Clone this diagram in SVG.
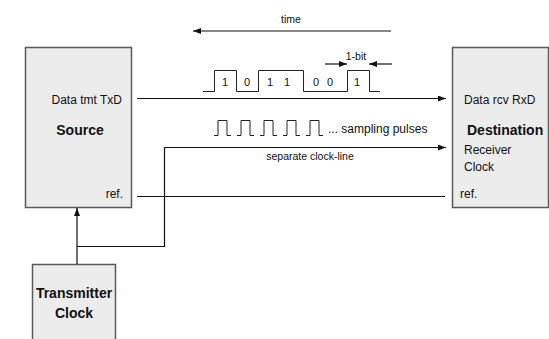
<svg xmlns="http://www.w3.org/2000/svg" width="549" height="339" viewBox="0 0 549 339">
<style>
.box{fill:#ececec;stroke:#5a5a5a;stroke-width:1.5}
.ln{fill:none;stroke:#111;stroke-width:1.2}
.wv{fill:none;stroke:#222;stroke-width:1}
text{font-family:"Liberation Sans",Arial,sans-serif;fill:#111}
.t12{font-size:12px}
.sm{font-size:10.5px}
.b{font-size:14px;font-weight:bold}
.dg{font-size:11px;text-anchor:middle}
</style>
<defs>
<marker id="ah" viewBox="0 0 8 6" refX="8" refY="3" markerWidth="8" markerHeight="6" markerUnits="userSpaceOnUse" orient="auto">
<path d="M0,0 L8,3 L0,6 z" fill="#111"/>
</marker>
</defs>
<rect width="549" height="339" fill="#fff"/>
<g id="source">
<rect class="box" x="25.5" y="47.5" width="106" height="160"/>
<text class="t12" x="122" y="104" text-anchor="end">Data tmt TxD</text>
<text class="b" x="80" y="135" text-anchor="middle">Source</text>
<text class="t12" x="123" y="198" text-anchor="end">ref.</text>
</g>
<g id="destination">
<rect class="box" x="452.5" y="47.5" width="96" height="160"/>
<text class="t12" x="464" y="104">Data rcv RxD</text>
<text class="b" x="467" y="135">Destination</text>
<text class="t12" x="464" y="154">Receiver</text>
<text class="t12" x="464" y="171">Clock</text>
<text class="t12" x="460" y="198">ref.</text>
</g>
<g id="transmitter-clock">
<rect class="box" x="32.5" y="264.5" width="83" height="80"/>
<text class="b" x="74" y="298" text-anchor="middle">Transmitter</text>
<text class="b" x="74" y="318" text-anchor="middle">Clock</text>
</g>
<g id="time">
<text class="sm" x="291" y="23" text-anchor="middle">time</text>
</g>
<g id="waveform">
<path class="wv" d="M203,91.5 H214.5 V70.5 H236.5 V91.5 H258.5 V70.5 H303.5 V91.5 H347.5 V70.5 H369.5 V91.5 H380"/>
<text class="dg" x="225" y="86">1</text>
<text class="dg" x="247" y="86">0</text>
<text class="dg" x="270" y="86">1</text>
<text class="dg" x="287" y="86">1</text>
<text class="dg" x="316" y="86">0</text>
<text class="dg" x="330" y="86">0</text>
<text class="dg" x="357" y="86">1</text>
<text class="sm" x="356" y="60" text-anchor="middle">1-bit</text>
</g>
<g id="sampling-pulses">
<path class="wv" d="M214,135.5 h4 V120.5 h9 V135.5 h4 M237,135.5 h4 V120.5 h9 V135.5 h4 M260,135.5 h4 V120.5 h9 V135.5 h4 M283,135.5 h4 V120.5 h9 V135.5 h4 M306,135.5 h4 V120.5 h9 V135.5 h4"/>
<text class="t12" x="328" y="133">... sampling pulses</text>
</g>
<g id="connectors">
<line class="ln" x1="391" y1="31" x2="193" y2="31" marker-end="url(#ah)"/>
<line class="ln" x1="325" y1="64" x2="347" y2="64" marker-end="url(#ah)"/>
<line class="ln" x1="392" y1="64" x2="369" y2="64" marker-end="url(#ah)"/>
<line class="ln" x1="137" y1="98.5" x2="446" y2="98.5" marker-end="url(#ah)"/>
<polyline class="ln" points="77,246.5 164.5,246.5 164.5,147.5 446,147.5" marker-end="url(#ah)"/>
<line class="ln" x1="77" y1="264" x2="77" y2="208" marker-end="url(#ah)"/>
<line class="ln" x1="137" y1="196.5" x2="445" y2="196.5"/>
<text class="sm" x="310" y="160" text-anchor="middle">separate clock-line</text>
</g>
</svg>
